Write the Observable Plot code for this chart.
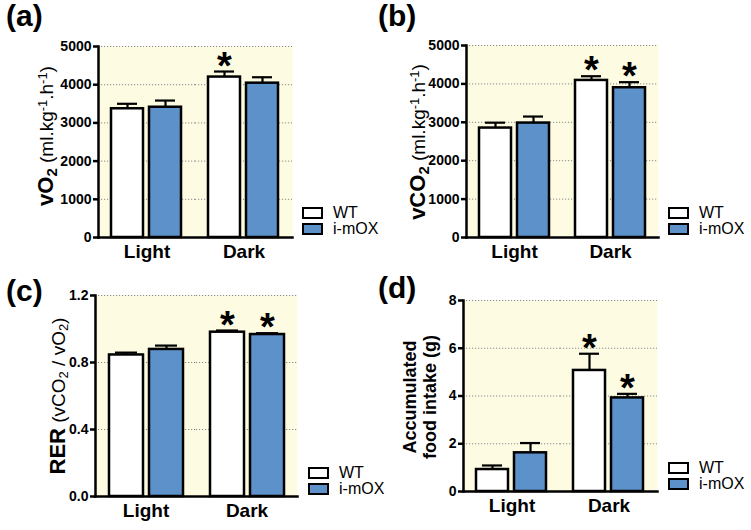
<!DOCTYPE html>
<html>
<head>
<meta charset="utf-8">
<script src="https://cdn.jsdelivr.net/npm/d3@7"></script>
<script src="https://cdn.jsdelivr.net/npm/@observablehq/plot@0.6"></script>
<style>
  html, body { margin: 0; padding: 0; background: #ffffff; }
  #fig { position: relative; width: 751px; height: 530px; overflow: hidden; font-family: "Liberation Sans", Arial, Helvetica, sans-serif; color: #000; }
  .panel { position: absolute; }
  .plab { position: absolute; font-weight: bold; font-size: 30px; line-height: 30px; white-space: nowrap; }
  .ylab { position: absolute; white-space: nowrap; transform: translate(-50%, -50%) rotate(-90deg); text-align: center; }
  .ylab b { font-weight: bold; font-size: 22px; }
  .ylab .reg { font-weight: normal; font-size: 19px; }
  .ylab sub { font-size: 0.68em; vertical-align: -0.25em; line-height: 0; }
  .ylab sup { font-size: 0.68em; vertical-align: 0.45em; line-height: 0; }
  .legend { position: absolute; font-size: 16px; }
  .legend .row { display: flex; align-items: center; height: 16px; }
  .legend .box { width: 21px; height: 12px; border: 2px solid #000; box-sizing: border-box; margin-right: 10px; }
</style>
</head>
<body>
<div id="fig"></div>
<script>
// ---- data (order: Light WT, Light i-mOX, Dark WT, Dark i-mOX) ----
const periods = ["Light", "Dark"];
const groups = ["WT", "i-mOX"];
const groupColors = ["#ffffff", "#5c91ca"];

const vo2Mean = [3370, 3410, 4200, 4040];
const vo2Sem  = [130, 175, 145, 155];
const vo2Sig  = [false, false, true, false];
const vo2Ticks = [0, 1000, 2000, 3000, 4000, 5000];

const vco2Mean = [2850, 2980, 4090, 3900];
const vco2Sem  = [140, 170, 110, 145];
const vco2Sig  = [false, false, true, true];
const vco2Ticks = [0, 1000, 2000, 3000, 4000, 5000];

const rerMean = [0.845, 0.878, 0.981, 0.967];
const rerSem  = [0.014, 0.023, 0.010, 0.008];
const rerSig  = [false, false, true, true];
const rerTicks = [0, 0.4, 0.8, 1.2];

const foodMean = [0.92, 1.62, 5.07, 3.92];
const foodSem  = [0.17, 0.41, 0.70, 0.17];
const foodSig  = [false, false, true, true];
const foodTicks = [0, 2, 4, 6, 8];

// ---- layout ----
const panels = [
  { tag: "(a)", mean: vo2Mean, sem: vo2Sem, sig: vo2Sig, ticks: vo2Ticks, fmt: "d",
    left: 0, top: 0, width: 300, height: 267, mL: 97, mR: 8, mT: 46, mB: 30,
    tagPos: [6, 1], ylabel: '<b>vO<sub>2</sub></b><span class="reg"> (ml.kg<sup>-1</sup>.h<sup>-1</sup>)</span>', ylabPos: [46, 136],
    legPos: [302, 205] },
  { tag: "(b)", mean: vco2Mean, sem: vco2Sem, sig: vco2Sig, ticks: vco2Ticks, fmt: "d",
    left: 380, top: 0, width: 286, height: 267, mL: 85, mR: 8, mT: 45, mB: 30,
    tagPos: [378, 1], ylabel: '<b>vCO<sub>2</sub></b><span class="reg"> (ml.kg<sup>-1</sup>.h<sup>-1</sup>)</span>', ylabPos: [418, 142],
    legPos: [668, 205] },
  { tag: "(c)", mean: rerMean, sem: rerSem, sig: rerSig, ticks: rerTicks, fmt: ".1f",
    left: 0, top: 265, width: 305, height: 261, mL: 94, mR: 8, mT: 30, mB: 30,
    tagPos: [6, 276], ylabel: '<b>RER</b><span class="reg"> (vCO<sub>2</sub> / vO<sub>2</sub>)</span>', ylabPos: [58, 396],
    legPos: [308, 465] },
  { tag: "(d)", mean: foodMean, sem: foodSem, sig: foodSig, ticks: foodTicks, fmt: "d",
    left: 380, top: 265, width: 285, height: 256, mL: 82, mR: 8, mT: 35, mB: 30,
    tagPos: [378, 273], ylabel: '<div style="font-weight:bold;font-size:18px;line-height:20px">Accumulated<br>food intake (g)</div>', ylabPos: [420, 397],
    legPos: [668, 460] }
];

const fig = document.getElementById("fig");

for (const p of panels) {
  const rows = [];
  periods.forEach((per, i) => groups.forEach((g, j) => {
    const k = i * groups.length + j;
    rows.push({ period: per, group: g, mean: p.mean[k], top: p.mean[k] + p.sem[k], sig: p.sig[k] });
  }));
  const ymax = p.ticks[p.ticks.length - 1];
  const chart = Plot.plot({
    width: p.width, height: p.height,
    marginLeft: p.mL, marginRight: p.mR, marginTop: p.mT, marginBottom: p.mB,
    style: { fontFamily: '"Liberation Sans", Arial, sans-serif', background: "transparent", color: "#000", overflow: "visible" },
    fx: { domain: periods, paddingInner: 0, paddingOuter: 0, label: null },
    x: { domain: groups, paddingInner: 0.154, paddingOuter: 0.333, axis: null },
    y: { domain: [0, ymax], label: null },
    color: { domain: groups, range: groupColors },
    marks: [
      Plot.frame({ fill: "#fdfbe2", stroke: null, facet: "super" }),
      Plot.ruleY(p.ticks.filter(t => t > 0), { stroke: "#8a8a8a", strokeWidth: 1, strokeDasharray: "1.2,1.8" }),
      Plot.ruleX(rows, { fx: "period", x: "group", y1: "mean", y2: "top", stroke: "#000", strokeWidth: 2.2 }),
      Plot.tickY(rows, { fx: "period", x: "group", y: "top", stroke: "#000", strokeWidth: 2.2, insetLeft: 6, insetRight: 6 }),
      Plot.barY(rows, { fx: "period", x: "group", y: "mean", fill: "group", stroke: "#000", strokeWidth: 2.5 }),
      Plot.text(rows.filter(d => d.sig), { fx: "period", x: "group", y: "top", text: () => "*", fontSize: 38, fontWeight: "bold", dy: -5, fill: "#000" }),
      Plot.axisY({ ticks: p.ticks, tickFormat: d3.format(p.fmt), tickSize: 5, tickPadding: 2, fontSize: 14, fontWeight: "bold", strokeWidth: 2.5, label: null }),
      Plot.axisFx({ anchor: "bottom", tickSize: 0, tickPadding: 7, fontSize: 19, fontWeight: "bold", label: null }),
      Plot.frame({ anchor: "left", stroke: "#000", strokeWidth: 2.5, facet: "super" }),
      Plot.frame({ anchor: "bottom", stroke: "#000", strokeWidth: 2.5, facet: "super" })
    ]
  });
  const wrap = document.createElement("div");
  wrap.className = "panel";
  wrap.style.left = p.left + "px";
  wrap.style.top = p.top + "px";
  wrap.appendChild(chart);
  fig.appendChild(wrap);

  const tag = document.createElement("div");
  tag.className = "plab";
  tag.style.left = p.tagPos[0] + "px";
  tag.style.top = p.tagPos[1] + "px";
  tag.textContent = p.tag;
  fig.appendChild(tag);

  const yl = document.createElement("div");
  yl.className = "ylab";
  yl.style.left = p.ylabPos[0] + "px";
  yl.style.top = p.ylabPos[1] + "px";
  yl.innerHTML = p.ylabel;
  fig.appendChild(yl);

  const leg = document.createElement("div");
  leg.className = "legend";
  leg.style.left = p.legPos[0] + "px";
  leg.style.top = p.legPos[1] + "px";
  groups.forEach((g, j) => {
    const r = document.createElement("div");
    r.className = "row";
    const b = document.createElement("div");
    b.className = "box";
    b.style.background = groupColors[j];
    const t = document.createElement("span");
    t.textContent = g;
    r.appendChild(b); r.appendChild(t);
    leg.appendChild(r);
  });
  fig.appendChild(leg);
}
</script>
</body>
</html>
